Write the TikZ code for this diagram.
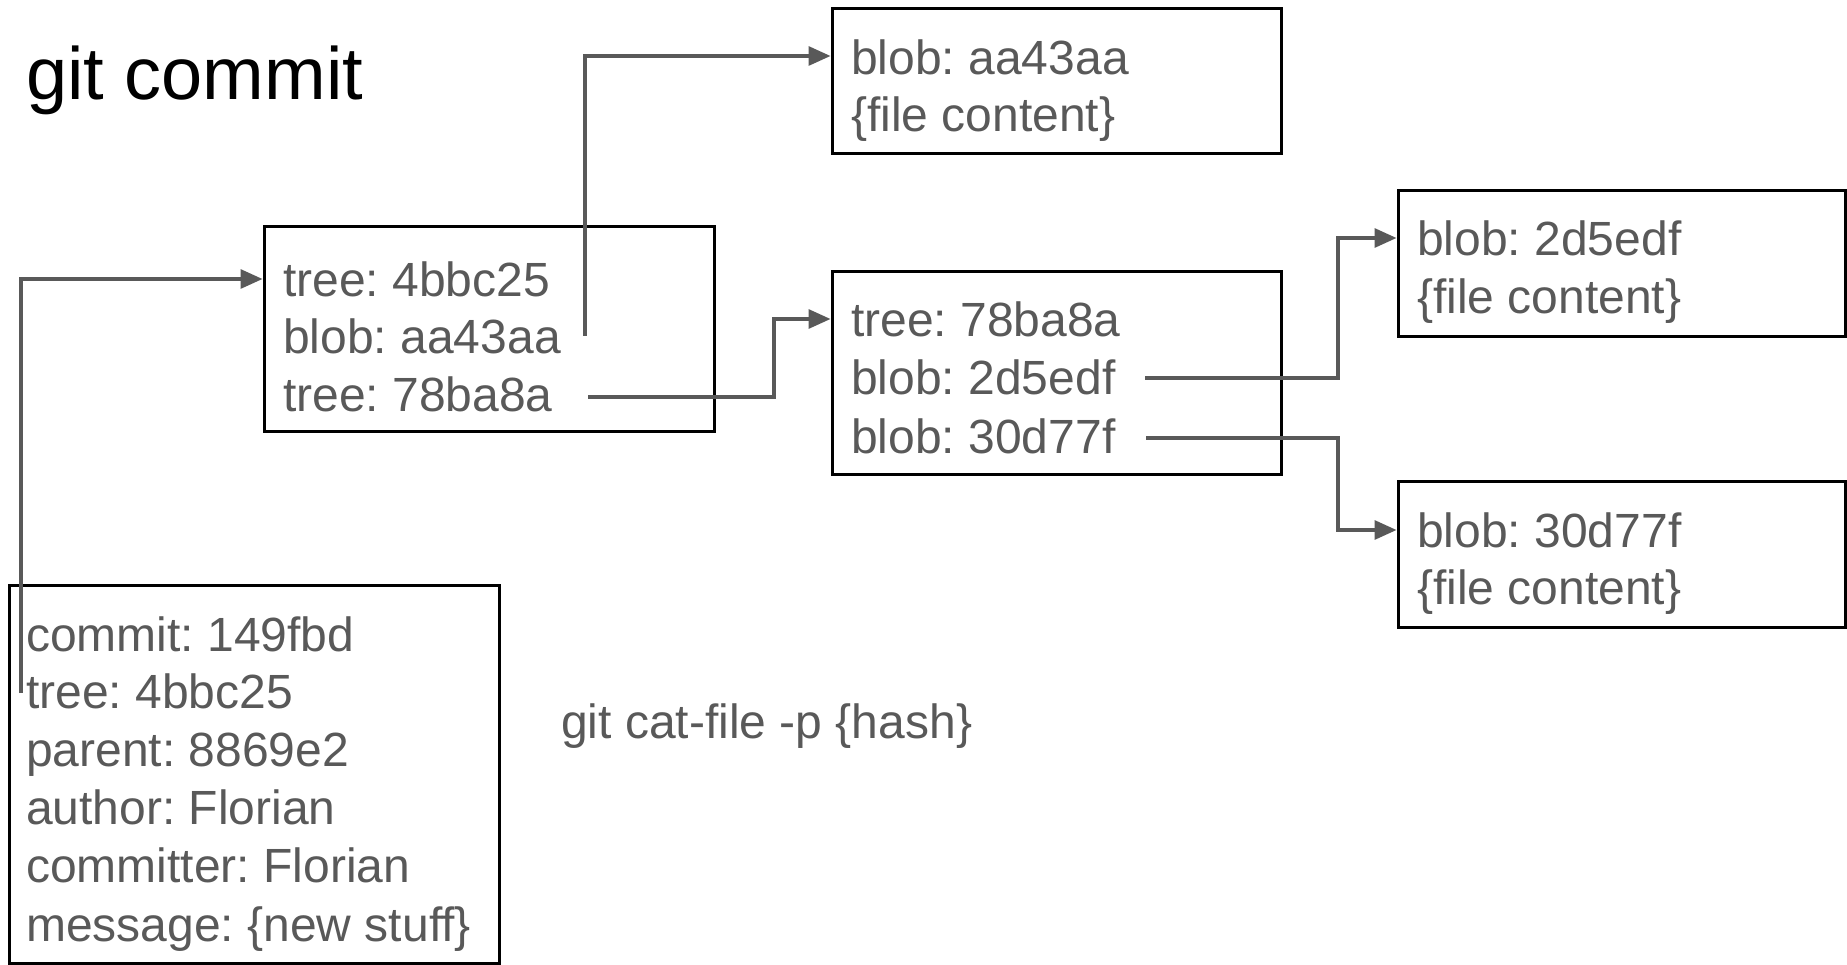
\documentclass[tikz,border=0pt]{standalone}
\usepackage{fontspec}
\setmainfont{Liberation Sans}
\usetikzlibrary{arrows.meta}
\definecolor{txt}{HTML}{595959}
\frenchspacing
\begin{document}
\begin{tikzpicture}[x=1pt,y=-1pt,
  box/.style={draw=black,line width=3pt,inner sep=0pt},
  lbl/.style={anchor=base west,inner sep=0pt,text=txt,font=\fontsize{48}{57}\selectfont},
  conn/.style={draw=txt,line width=3.2pt,-{Triangle[length=22pt,width=19pt]}}]
\fill[white] (0,0) rectangle (1847,965);
\useasboundingbox (0,0) rectangle (1847,965);

% boxes
\node[box,minimum width=450pt,minimum height=204pt] (A) at (489,329) {};
\node[box,minimum width=449pt,minimum height=145pt] (B) at (1056.5,81.5) {};
\node[box,minimum width=449pt,minimum height=202pt] (C) at (1056.5,373) {};
\node[box,minimum width=447pt,minimum height=146pt] (D) at (1621.5,264) {};
\node[box,minimum width=447pt,minimum height=146pt] (E) at (1621.5,554) {};
\node[box,minimum width=490pt,minimum height=378pt] (F) at (254,774) {};

% title
\node[anchor=base west,inner sep=0pt,font=\fontsize{74}{80}\selectfont,text=black] (title) at (26,100) {git commit};

% box A
\node[lbl] (a1) at (283,297) {tree: 4bbc25};
\node[lbl] (a2) at (283,354) {blob: aa43aa};
\node[lbl] (a3) at (283,411) {tree: 78ba8a};
% box B
\node[lbl] (b1) at (851,75) {blob: aa43aa};
\node[lbl] (b2) at (851,132) {\{file content\}};
% box C
\node[lbl] (cc1) at (851,337) {tree: 78ba8a};
\node[lbl] (cc2) at (851,395) {blob: 2d5edf};
\node[lbl] (cc3) at (851,453) {blob: 30d77f};
% box D
\node[lbl] (d1) at (1417,256) {blob: 2d5edf};
\node[lbl] (d2) at (1417,314) {\{file content\}};
% box E
\node[lbl] (e1) at (1417,547) {blob: 30d77f};
\node[lbl] (e2) at (1417,604) {\{file content\}};
% box F
\node[lbl] (f1) at (26,651) {commit: 149fbd};
\node[lbl] (f2) at (26,708) {tree: 4bbc25};
\node[lbl] (f3) at (26,766) {parent: 8869e2};
\node[lbl] (f4) at (26,824) {author: Florian};
\node[lbl] (f5) at (26,882) {committer: Florian};
\node[lbl] (f6) at (26,941) {message: \{new stuff\}};
% free text
\node[lbl] (cat) at (561,738) {git cat-file -p \{hash\}};

% connector coordinates
\coordinate (c1) at (21,693);
\coordinate (y1) at (0,279);
\coordinate (c2) at (585,336);
\coordinate (y2) at (0,56);
\coordinate (c3) at (588,397);
\coordinate (m3) at (774,0);
\coordinate (y3) at (0,319);
\coordinate (c4) at (1145,378);
\coordinate (c5) at (1146,438);
\coordinate (m4) at (1338,0);
\coordinate (y4) at (0,238);
\coordinate (y5) at (0,530);

\draw[conn] (c1) |- (A.west |- y1);
\draw[conn] (c2) |- (B.west |- y2);
\draw[conn] (c3) -| (m3 |- y3) -- (C.west |- y3);
\draw[conn] (c4) -| (m4 |- y4) -- (D.west |- y4);
\draw[conn] (c5) -| (m4 |- y5) -- (E.west |- y5);
\end{tikzpicture}
\end{document}
